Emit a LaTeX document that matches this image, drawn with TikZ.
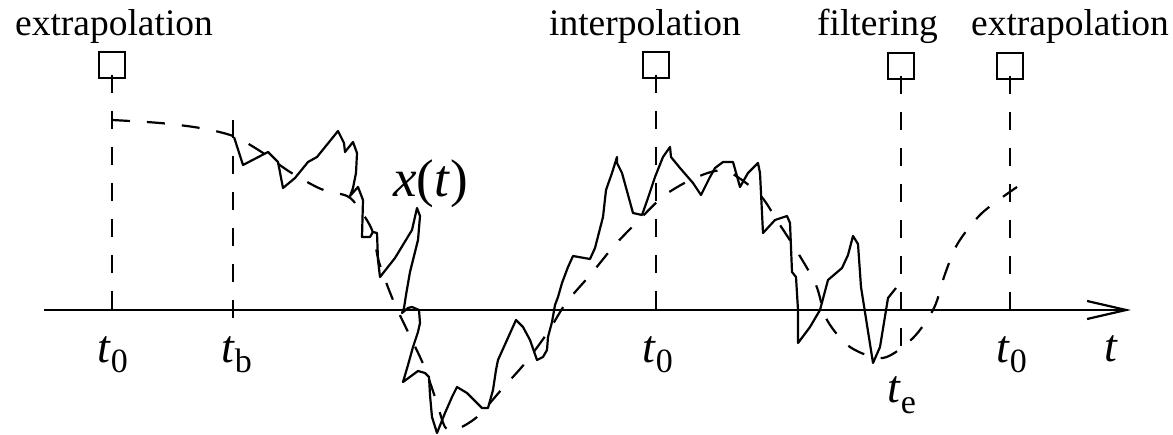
\documentclass[tikz,border=0pt]{standalone}
\usepackage{fontspec}
\setmainfont{Liberation Serif}
\usetikzlibrary{arrows.meta,calc}
\newcommand\tsubl[1]{\textit{t}\raisebox{-10pt}{\fontsize{34}{34}\selectfont #1}}
\begin{document}
\begin{tikzpicture}[x=1pt,y=-1pt,line width=2.2pt,
  lab/.style={font=\fontsize{37.5}{40}\selectfont, inner sep=0pt, anchor=base west},
  mlab/.style={font=\fontsize{46}{48}\selectfont, inner sep=0pt, anchor=base west},
  probe/.style={draw, minimum size=26pt, inner sep=0pt, line width=2.2pt},
  dashline/.style={dash pattern=on 18pt off 18pt},
  estim/.style={dash pattern=on 18pt off 17pt},
  jag/.style={line join=round}]
\useasboundingbox (0,0) rectangle (1173,435);
% probes
\node[probe] (b1) at (112,65) {};
\node[probe] (b2) at (656,65) {};
\node[probe] (b3) at (901,66) {};
\node[probe] (b4) at (1010,66) {};
% axis
\coordinate (a0) at (44,310);
\coordinate (a1) at (1131,310);
\draw[-{Straight Barb[length=39pt,width=18pt]}] (a0) -- (a1);
% vertical lines
\coordinate (tbtop) at (233,120);
\coordinate (tbbot) at (233,318);
\coordinate (tebot) at (901,363);
\draw[dashline] ($(b1.center)+(0,10)$) -- (b1.center |- a0);
\draw[dashline] ($(b2.center)+(0,10)$) -- (b2.center |- a0);
\draw[dashline] ($(b3.center)+(0,10)$) -- (tebot);
\draw[dashline] ($(b4.center)+(0,10)$) -- (b4.center |- a0);
\draw[dashline] (tbtop) -- (tbbot);
% labels
\node[lab] (l1) at (14,36) {extrapolation};
\node[lab] (l2) at (548,36) {interpolation};
\node[lab] (l3) at (816,36) {filtering};
\node[lab] (l4) at (970,36) {extrapolation};
\node[mlab, font=\fontsize{53}{55}\selectfont] (xt) at (392,197) {\textit{x}(\textit{t})};
\node[mlab] (t1) at (96,363) {\tsubl{0}};
\node[mlab] (t2) at (220,363) {\tsubl{b}};
\node[mlab] (t3) at (641,363) {\tsubl{0}};
\node[mlab] (t4) at (886,403) {\tsubl{e}};
\node[mlab] (t5) at (995,363) {\tsubl{0}};
\node[mlab] (t6) at (1103,362) {\textit{t}};
% estimate (dashed)
\draw[estim] plot[smooth] coordinates {(112,120) (160,123) (200,128) (233,136) (260,151) (290,172) (321,189) (347,196) (358,207) (372,230) (379,262) (393,300) (408,332) (424,366) (436,400) (445,427) (455,430) (477,417) (502,389) (526,362) (548,332) (566,303) (591,274) (614,246) (638,221) (665,195) (697,177) (726,171) (759,194) (778,222) (798,253) (816,285) (827,320) (850,347) (883,358) (913,338) (934,308) (945,274) (958,243) (982,213) (1017,187)};
% signal x(t)
\draw[jag] plot coordinates {(234,137) (243,165) (268,152) (278,162) (283,188) (295,178) (308,162) (317,157) (338,131) (344,143) (345,152) (353,142) (357,153) (356,173) (353,188) (350,196) (358,187) (363,200) (362,237) (370,237) (373,232) (377,233) (378,260) (380,277) (395,258) (412,230) (417,208) (420,216) (418,240) (410,272) (406,295) (404,308) (402,313) (408,308) (412,307) (419,310) (420,323) (418,332) (413,347) (408,365) (403,382) (418,371) (425,373) (429,377) (430,395) (432,417) (437,433) (445,413) (452,397) (457,387) (467,393) (482,408) (488,408) (493,390) (496,370) (498,360) (507,340) (516,320) (523,327) (530,340) (537,360) (543,357) (547,350) (548,337) (552,322) (555,305) (558,297) (562,283) (568,267) (573,256) (590,259) (595,248) (603,217) (606,190) (612,173) (617,157) (617,163) (622,173) (633,213) (642,215) (648,198) (655,177) (663,157) (670,147) (671,157) (680,168) (693,183) (701,195) (710,177) (715,168) (723,162) (733,162) (740,187) (748,173) (758,163) (760,173) (763,233) (775,220) (787,216) (790,223) (792,272) (796,277) (798,310) (798,343) (810,327) (820,310) (828,280) (842,268) (848,255) (853,236) (858,244) (861,287) (873,363) (880,347) (888,298) (896,288)};
\end{tikzpicture}
\end{document}
